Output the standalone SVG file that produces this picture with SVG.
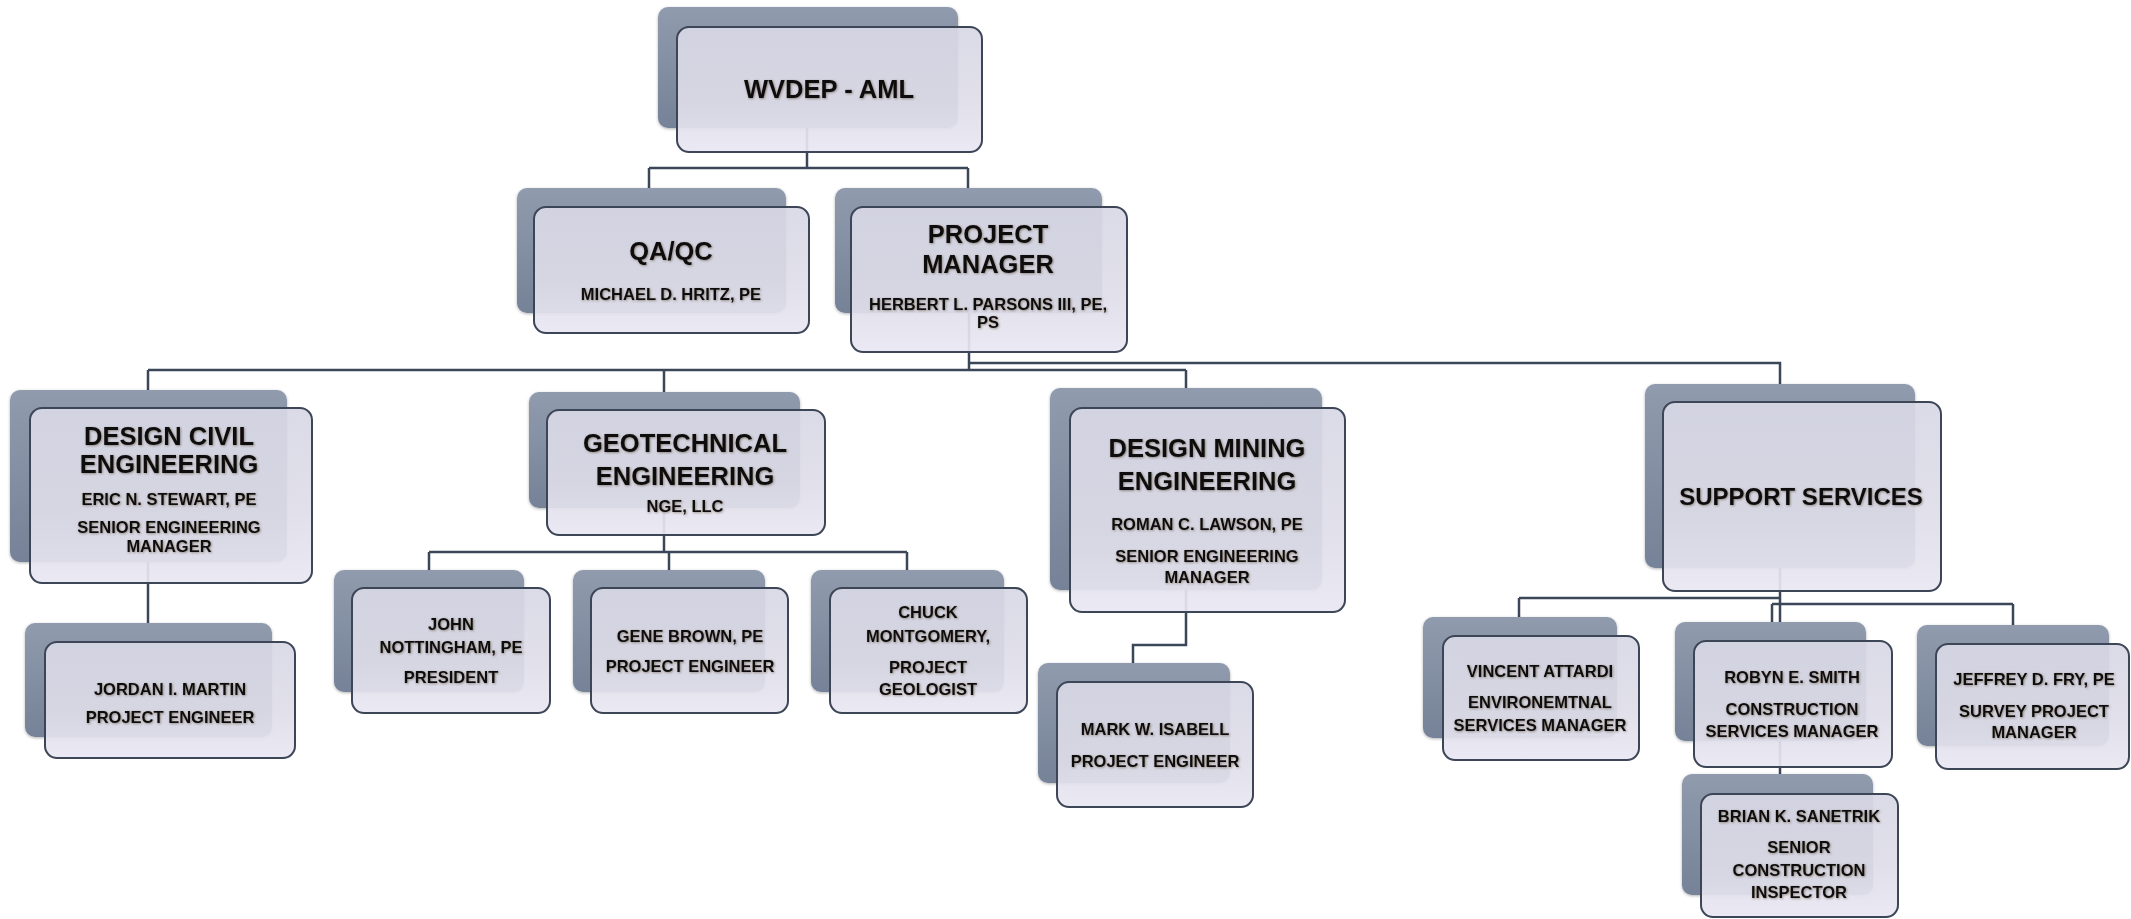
<svg xmlns="http://www.w3.org/2000/svg" width="2131" height="919" viewBox="0 0 2131 919">
<defs>
<linearGradient id="gb" x1="0" y1="0" x2="0" y2="1">
<stop offset="0" stop-color="#909bad"/>
<stop offset="1" stop-color="#758297"/>
</linearGradient>
<linearGradient id="gf" x1="0" y1="0" x2="0" y2="1">
<stop offset="0" stop-color="#d8d8e5"/>
<stop offset="0.6" stop-color="#dedde9"/>
<stop offset="1" stop-color="#e9e7f2"/>
</linearGradient>
<filter id="sh" x="-10%" y="-10%" width="120%" height="120%">
<feDropShadow dx="0" dy="1" stdDeviation="1.5" flood-color="#000" flood-opacity="0.3"/>
</filter>
<filter id="ts" x="-5%" y="-20%" width="110%" height="140%">
<feDropShadow dx="0.8" dy="0.8" stdDeviation="0.8" flood-color="#3a2a10" flood-opacity="0.5"/>
</filter>
<style>
.bk{fill:url(#gb);filter:url(#sh)}
.fr{fill:url(#gf);fill-opacity:0.92;stroke:#3d4657;stroke-width:2}
.h{font-family:"Liberation Sans",Arial,sans-serif;font-weight:bold;font-size:25.5px;fill:#111;text-anchor:middle;filter:url(#ts)}
.s{font-family:"Liberation Sans",Arial,sans-serif;font-weight:bold;font-size:16.5px;fill:#111;text-anchor:middle;filter:url(#ts)}
.c{stroke:#3b4659;stroke-width:2.5;fill:none}
</style>
</defs>
<rect width="2131" height="919" fill="#fff"/>
<g id="connectors">
<path class="c" d="M807 90V168M649 168H968M649 168V188M968 168V188"/>
<path class="c" d="M969 260V370M148 370H1186M148 370V390M664 370V392M1186 370V388"/>
<path class="c" d="M969 363H1780V384"/>
<path class="c" d="M148 476V623"/>
<path class="c" d="M664 450V552M429 552H907M429 552V570M669 552V570M907 552V570"/>
<path class="c" d="M1186 500V645H1133V663"/>
<path class="c" d="M1780 480V774M1519 598H1780M1519 598V617M1772 604H2013M1772 604V622M2013 604V625"/>
</g>
<g id="n-wvdep">
<rect class="bk" x="658" y="7" width="300" height="121" rx="10"/>
<rect class="fr" x="677" y="27" width="305" height="125" rx="12"/>
<text class="h" x="829" y="98">WVDEP - AML</text>
</g>
<g id="n-qaqc">
<rect class="bk" x="517" y="188" width="269" height="125" rx="10"/>
<rect class="fr" x="534" y="207" width="275" height="126" rx="12"/>
<text class="h" x="671" y="260">QA/QC</text>
<text class="s" x="671" y="300">MICHAEL D. HRITZ, PE</text>
</g>
<g id="n-pm">
<rect class="bk" x="835" y="188" width="267" height="125" rx="10"/>
<rect class="fr" x="851" y="207" width="276" height="145" rx="12"/>
<text class="h" x="988" y="243">PROJECT</text>
<text class="h" x="988" y="273">MANAGER</text>
<text class="s" x="988" y="310">HERBERT L. PARSONS III, PE,</text>
<text class="s" x="988" y="328">PS</text>
</g>
<g id="n-civil">
<rect class="bk" x="10" y="390" width="277" height="172" rx="10"/>
<rect class="fr" x="30" y="408" width="282" height="175" rx="12"/>
<text class="h" x="169" y="445">DESIGN CIVIL</text>
<text class="h" x="169" y="473">ENGINEERING</text>
<text class="s" x="169" y="505">ERIC N. STEWART, PE</text>
<text class="s" x="169" y="533">SENIOR ENGINEERING</text>
<text class="s" x="169" y="552">MANAGER</text>
</g>
<g id="n-jordan">
<rect class="bk" x="25" y="623" width="247" height="114" rx="10"/>
<rect class="fr" x="45" y="642" width="250" height="116" rx="12"/>
<text class="s" x="170" y="695">JORDAN I. MARTIN</text>
<text class="s" x="170" y="723">PROJECT ENGINEER</text>
</g>
<g id="n-geo">
<rect class="bk" x="529" y="392" width="271" height="116" rx="10"/>
<rect class="fr" x="547" y="410" width="278" height="125" rx="12"/>
<text class="h" x="685" y="452">GEOTECHNICAL</text>
<text class="h" x="685" y="485">ENGINEERING</text>
<text class="s" x="685" y="512">NGE, LLC</text>
</g>
<g id="n-john">
<rect class="bk" x="334" y="570" width="190" height="122" rx="10"/>
<rect class="fr" x="352" y="588" width="198" height="125" rx="12"/>
<text class="s" x="451" y="630">JOHN</text>
<text class="s" x="451" y="653">NOTTINGHAM, PE</text>
<text class="s" x="451" y="683">PRESIDENT</text>
</g>
<g id="n-gene">
<rect class="bk" x="573" y="570" width="192" height="122" rx="10"/>
<rect class="fr" x="591" y="588" width="197" height="125" rx="12"/>
<text class="s" x="690" y="642">GENE BROWN, PE</text>
<text class="s" x="690" y="672">PROJECT ENGINEER</text>
</g>
<g id="n-chuck">
<rect class="bk" x="811" y="570" width="193" height="122" rx="10"/>
<rect class="fr" x="830" y="588" width="197" height="125" rx="12"/>
<text class="s" x="928" y="618">CHUCK</text>
<text class="s" x="928" y="642">MONTGOMERY,</text>
<text class="s" x="928" y="673">PROJECT</text>
<text class="s" x="928" y="695">GEOLOGIST</text>
</g>
<g id="n-mining">
<rect class="bk" x="1050" y="388" width="272" height="202" rx="10"/>
<rect class="fr" x="1070" y="408" width="275" height="204" rx="12"/>
<text class="h" x="1207" y="457">DESIGN MINING</text>
<text class="h" x="1207" y="490">ENGINEERING</text>
<text class="s" x="1207" y="530">ROMAN C. LAWSON, PE</text>
<text class="s" x="1207" y="562">SENIOR ENGINEERING</text>
<text class="s" x="1207" y="583">MANAGER</text>
</g>
<g id="n-mark">
<rect class="bk" x="1038" y="663" width="192" height="120" rx="10"/>
<rect class="fr" x="1057" y="682" width="196" height="125" rx="12"/>
<text class="s" x="1155" y="735">MARK W. ISABELL</text>
<text class="s" x="1155" y="767">PROJECT ENGINEER</text>
</g>
<g id="n-support">
<rect class="bk" x="1645" y="384" width="270" height="184" rx="10"/>
<rect class="fr" x="1663" y="402" width="278" height="189" rx="12"/>
<text class="h" x="1801" y="505" style="font-size:24px">SUPPORT SERVICES</text>
</g>
<g id="n-vincent">
<rect class="bk" x="1423" y="617" width="194" height="121" rx="10"/>
<rect class="fr" x="1443" y="636" width="196" height="124" rx="12"/>
<text class="s" x="1540" y="677">VINCENT ATTARDI</text>
<text class="s" x="1540" y="708">ENVIRONEMTNAL</text>
<text class="s" x="1540" y="731">SERVICES MANAGER</text>
</g>
<g id="n-robyn">
<rect class="bk" x="1675" y="622" width="191" height="119" rx="10"/>
<rect class="fr" x="1694" y="641" width="198" height="126" rx="12"/>
<text class="s" x="1792" y="683">ROBYN E. SMITH</text>
<text class="s" x="1792" y="715">CONSTRUCTION</text>
<text class="s" x="1792" y="737">SERVICES MANAGER</text>
</g>
<g id="n-jeffrey">
<rect class="bk" x="1917" y="625" width="192" height="121" rx="10"/>
<rect class="fr" x="1936" y="644" width="193" height="125" rx="12"/>
<text class="s" x="2034" y="685">JEFFREY D. FRY, PE</text>
<text class="s" x="2034" y="717">SURVEY PROJECT</text>
<text class="s" x="2034" y="738">MANAGER</text>
</g>
<g id="n-brian">
<rect class="bk" x="1682" y="774" width="191" height="121" rx="10"/>
<rect class="fr" x="1701" y="794" width="197" height="123" rx="12"/>
<text class="s" x="1799" y="822">BRIAN K. SANETRIK</text>
<text class="s" x="1799" y="853">SENIOR</text>
<text class="s" x="1799" y="876">CONSTRUCTION</text>
<text class="s" x="1799" y="898">INSPECTOR</text>
</g>
</svg>
